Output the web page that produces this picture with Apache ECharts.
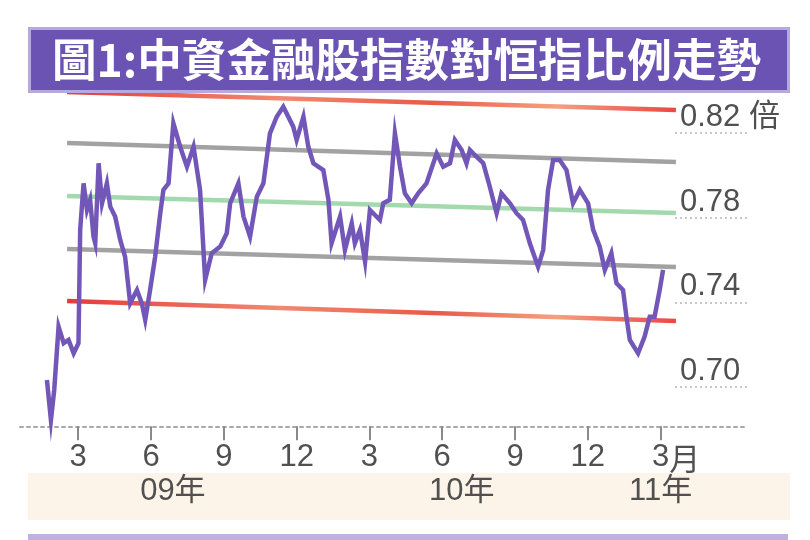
<!DOCTYPE html>
<html>
<head>
<meta charset="utf-8">
<script src="https://cdn.jsdelivr.net/npm/echarts@6/dist/echarts.min.js"></script>
<style>html,body{margin:0;padding:0;background:#fff}#c{width:810px;height:540px}</style>
</head>
<body>
<div id="c"></div>
<script>
// ---- data (x = month position: 3 = Mar 2009, 15 = Mar 2010, 27 = Mar 2011) ----
const titleText = '圖1:中資金融股指數對恒指比例走勢';
const monthTicks = [3, 6, 9, 12, 15, 18, 21, 24, 27];
const monthLabels = ['3', '6', '9', '12', '3', '6', '9', '12', '3'];
const yearPos = [6.9, 18.8, 27];
const yearLabels = ['09年', '10年', '11年'];
const yTicks = [0.70, 0.74, 0.78, 0.82];
const yUnit = '倍';

const months = [1.71,1.875,2.01,2.19,2.40,2.60,2.81,3.01,3.08,3.22,3.36,3.49,3.63,3.70,3.84,3.98,4.18,4.32,4.52,4.73,
4.93,5.14,5.42,5.62,5.76,5.96,6.17,6.38,6.51,6.72,6.92,7.20,7.48,7.75,8.02,8.23,8.50,8.85,9.12,9.26,
9.60,9.81,10.08,10.36,10.63,10.90,11.18,11.45,11.86,12.00,12.28,12.48,12.69,13.10,13.31,13.44,13.79,13.99,14.27,14.40,
14.61,14.82,15.02,15.43,15.57,15.84,16.05,16.26,16.46,16.74,17.01,17.35,17.77,18.04,18.32,18.52,18.80,19.00,19.14,19.41,
19.69,19.96,20.24,20.44,20.79,21.06,21.33,21.61,21.95,22.16,22.36,22.57,22.84,23.12,23.39,23.67,24.01,24.22,24.49,24.70,
24.97,25.18,25.45,25.59,25.73,26.07,26.34,26.55,26.75,26.96,27.10];
const ratio = [0.7033,0.6844,0.6986,0.7285,0.7207,0.7222,0.7159,0.7207,0.7742,0.7962,0.7836,0.7884,0.7710,0.7679,0.8057,0.7868,0.7962,0.7852,0.7805,0.7695,
0.7616,0.7395,0.7458,0.7395,0.7317,0.7458,0.7616,0.7821,0.7931,0.7962,0.8246,0.8135,0.8041,0.8135,0.7931,0.7506,0.7632,0.7663,0.7726,0.7868,
0.7962,0.7805,0.7710,0.7899,0.7962,0.8198,0.8277,0.8324,0.8230,0.8167,0.8277,0.8135,0.8057,0.8025,0.7884,0.7679,0.7805,0.7647,0.7773,0.7679,
0.7742,0.7592,0.7836,0.7789,0.7868,0.7884,0.8199,0.8041,0.7915,0.7868,0.7915,0.7962,0.8104,0.8041,0.8057,0.8167,0.8120,0.8057,0.8120,0.8088,
0.8057,0.7946,0.7821,0.7915,0.7868,0.7821,0.7789,0.7679,0.7568,0.7647,0.7931,0.8072,0.8072,0.8025,0.7868,0.7931,0.7868,0.7742,0.7663,0.7553,
0.7632,0.7490,0.7458,0.7332,0.7222,0.7159,0.7238,0.7332,0.7332,0.7458,0.7553];

// channel lines: [start, end] along x = channelX
const channelX = [2.54, 27.63];
const redTop = [0.8394, 0.8309];
const grayUpper = [0.8153, 0.8063];
const greenMid = [0.7902, 0.7822];
const grayLower = [0.7652, 0.7567];
const redLower = [0.7406, 0.7312];

// ---- chart ----
const chart = echarts.init(document.getElementById('c'), null, {renderer: 'canvas'});
const numFont = 'Liberation Sans, Arial, Noto Sans CJK TC, sans-serif';

function seg(vals) { return channelX.map((x, i) => [x, vals[i]]); }
const redGrad = new echarts.graphic.LinearGradient(0, 0, 1, 0, [
  {offset: 0, color: '#e5393a'}, {offset: 0.35, color: '#f08a70'},
  {offset: 0.6, color: '#e95a48'}, {offset: 0.8, color: '#f4a080'}, {offset: 1, color: '#ec4545'}]);
function trend(name, vals, color) {
  return {name, type: 'line', data: seg(vals), symbol: 'none', clip: false, z: 2, silent: true,
    lineStyle: {color, width: 4.5}};
}

chart.setOption({
  animation: false,
  backgroundColor: '#ffffff',
  grid: {left: 20, right: 62, top: 90.66, bottom: 110.7, containLabel: false},
  xAxis: [{
    type: 'value', min: 0.6, max: 30.6, offset: -3,
    axisLine: {show: true, lineStyle: {color: '#a8a8a8', width: 2, type: [3, 4]}},
    axisTick: {show: true, customValues: monthTicks, length: 14, lineStyle: {color: '#8a8a8a', width: 2}},
    axisLabel: {
      customValues: monthTicks, margin: 16, fontSize: 31, color: '#505050', fontFamily: numFont,
      formatter: (v) => {
        const i = monthTicks.indexOf(v);
        return i === monthTicks.length - 1 ? '{p|}' + monthLabels[i] + '{u|月}' : monthLabels[i];
      },
      rich: {p: {width: 31}, u: {fontSize: 31, color: '#505050', fontFamily: 'Noto Sans CJK TC'}}
    },
    splitLine: {show: false}
  }, {
    type: 'value', min: 0.6, max: 30.6, position: 'bottom', offset: -3,
    axisLine: {show: false}, axisTick: {show: false}, splitLine: {show: false},
    axisLabel: {
      customValues: yearPos, margin: 50, fontSize: 31, color: '#505050', fontFamily: numFont,
      formatter: (v) => yearLabels[yearPos.indexOf(v)]
    }
  }],
  yAxis: {
    type: 'value', min: 0.68, max: 0.84, position: 'right', offset: -73,
    axisLine: {show: false},
    axisTick: {show: true, customValues: yTicks, inside: false, length: 73,
      lineStyle: {color: '#c8c8c8', width: 2, type: [2, 3]}},
    axisLabel: {
      customValues: yTicks, margin: 5, fontSize: 31, color: '#505050', fontFamily: numFont,
      align: 'left', verticalAlign: 'bottom',
      formatter: (v) => v.toFixed(2) + (v === yTicks[yTicks.length - 1] ? ' ' + yUnit : '')
    },
    splitLine: {show: false}
  },
  series: [
    trend('redTop', redTop, redGrad),
    trend('grayUpper', grayUpper, '#a2a2a2'),
    trend('green', greenMid, '#a3d9ad'),
    trend('grayLower', grayLower, '#a2a2a2'),
    trend('redLower', redLower, redGrad),
    {name: 'ratio', type: 'line', data: months.map((m, i) => [m, ratio[i]]), symbol: 'none', clip: false, z: 5,
      lineStyle: {color: '#7257b9', width: 4.5, join: 'miter'}}
  ],
  graphic: [
    {type: 'rect', z: -10, shape: {x: 28, y: 473, width: 762, height: 47}, style: {fill: '#fdf4e9'}},
    {type: 'rect', z: -10, shape: {x: 28, y: 534, width: 760, height: 6}, style: {fill: '#bfb0e0'}},
    {type: 'rect', z: 10, shape: {x: 29.5, y: 28.5, width: 759, height: 63}, style: {fill: '#6a53b2', stroke: '#b7a9df', lineWidth: 3}},
    {type: 'text', z: 11, x: 52, y: 60, scaleX: 0.99,
      style: {text: titleText, fill: '#ffffff', fontSize: 45, fontWeight: 'bold',
        fontFamily: 'Noto Sans CJK TC, sans-serif', textVerticalAlign: 'middle', textAlign: 'left'}}
  ]
});
</script>
</body>
</html>
